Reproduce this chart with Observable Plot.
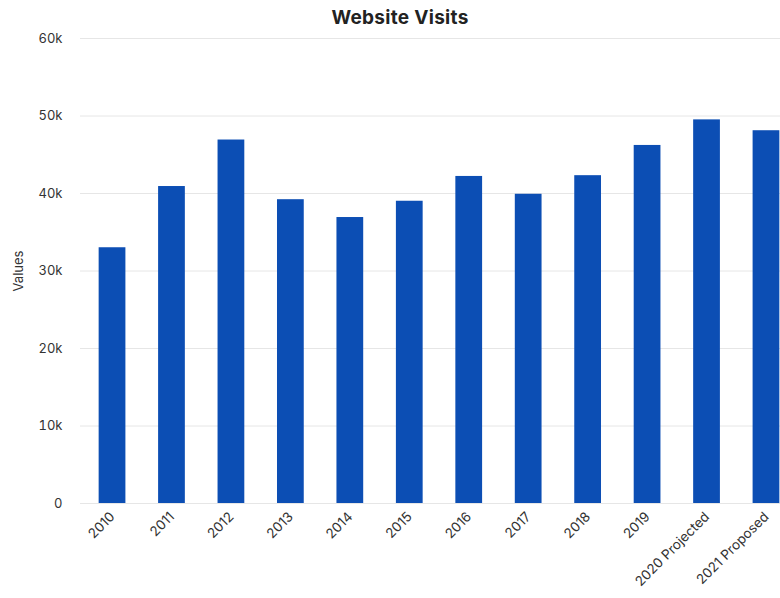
<!DOCTYPE html>
<html>
<head>
<meta charset="utf-8">
<script src="https://cdn.jsdelivr.net/npm/d3@7"></script>
<script src="https://cdn.jsdelivr.net/npm/@observablehq/plot@0.6"></script>
<style>
  html, body { margin: 0; padding: 0; background: #fff; overflow: hidden; }
  body { width: 780px; height: 598px; font-family: Inter, "Open Sans", sans-serif; }
  #title { height: 28px; line-height: 36px; text-align: center; font-size: 19px; font-weight: 700; color: #222; padding-left: 20px; letter-spacing: 0.3px; }
</style>
</head>
<body>
<div id="title">Website Visits</div>
<div id="chart"></div>
<script>
const categories = ["2010", "2011", "2012", "2013", "2014", "2015", "2016", "2017", "2018", "2019", "2020 Projected", "2021 Proposed"];
const values = [33000, 40900, 46900, 39200, 36900, 39000, 42200, 39900, 42300, 46200, 49500, 48100];
const yTicks = [0, 10000, 20000, 30000, 40000, 50000, 60000];
const yTickLabels = ["0", "10k", "20k", "30k", "40k", "50k", "60k"];
const yLabel = "Values";

const data = categories.map((c, i) => ({category: c, value: values[i]}));

const plot = Plot.plot({
  width: 780,
  height: 570,
  marginTop: 10,
  marginBottom: 95,
  marginLeft: 80,
  marginRight: 0,
  style: {fontFamily: "Inter, 'Open Sans', sans-serif", fontSize: "12px", color: "#333", overflow: "visible"},
  x: {domain: categories, range: [82, 796], paddingInner: 0.55, paddingOuter: 0.28, round: false},
  y: {domain: [0, 60000]},
  marks: [
    Plot.ruleY(yTicks, {stroke: "#e6e6e6", strokeWidth: 1}),
    Plot.barY(data, {x: "category", y: "value", fill: "#0c4eb4"}),
    Plot.axisY({
      ticks: yTicks,
      tickFormat: d => yTickLabels[yTicks.indexOf(d)],
      tickSize: 0,
      tickPadding: 18,
      label: null,
      fontSize: 13,
      fill: "#333"
    }),
    Plot.axisY({
      ticks: [],
      tickSize: 0,
      label: yLabel,
      labelAnchor: "center",
      labelArrow: "none",
      labelOffset: 67,
      fontSize: 13,
      fill: "#333"
    }),
    Plot.axisX({
      tickRotate: -45,
      tickSize: 0,
      tickPadding: 11,
      label: null,
      fontSize: 13.5,
      fill: "#333"
    })
  ]
});
document.getElementById("chart").appendChild(plot);
</script>
</body>
</html>
